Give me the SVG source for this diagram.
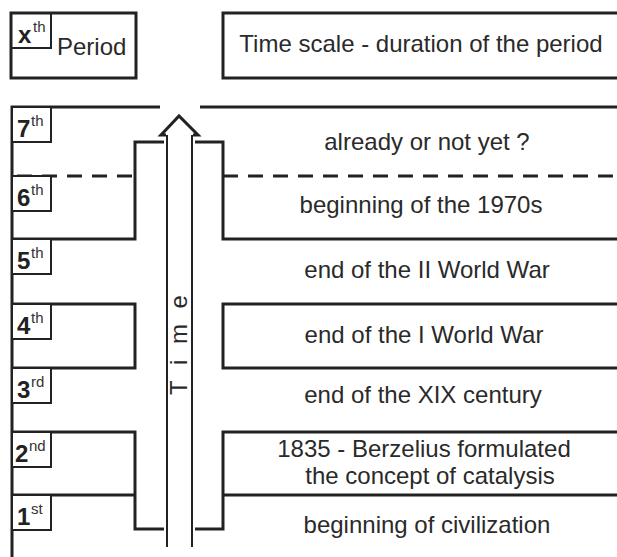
<svg xmlns="http://www.w3.org/2000/svg" width="617" height="557" viewBox="0 0 617 557">
<style>
.ln{fill:none;stroke:#222;stroke-width:3;stroke-linecap:butt}
.thin{fill:none;stroke:#222;stroke-width:2}
.lb{fill:#fff;stroke:#222;stroke-width:2}
.t{font-family:"Liberation Sans",Arial,sans-serif;font-size:24px;fill:#2a2a2a}
.c{text-anchor:middle}
.n{font-family:"Liberation Sans",Arial,sans-serif;font-size:24px;font-weight:bold;fill:#222}
.s{font-family:"Liberation Sans",Arial,sans-serif;font-size:15px;fill:#333}
</style>
<rect width="617" height="557" fill="#fff"/>
<g id="connectors">
<path class="ln" d="M12,557 V107 H160 M200,107 H617"/>
<path class="ln" d="M12,239 H135 V142 H164 M195,142 H223 V239 H617"/>
<path class="ln" d="M17,176 H135 M223,176 H617" stroke-dasharray="15 10"/>
<path class="ln" d="M12,304 H135 V368 H12 M617,304 H223 V368 H617"/>
<path class="ln" d="M12,432 H135 V529 H164 M12,495 H135 M617,432 H223 V529 H195 M223,495 H617"/>
</g>
<g id="time-arrow">
<path class="thin" d="M167,135 V547 M192,135 V547"/>
<path class="ln" d="M166,135 H161 L179,116 L198,135 H193" stroke-linejoin="miter"/>
<text class="t" transform="translate(187,395) rotate(-90)" letter-spacing="4.5">T i m e</text>
</g>
<g id="header-period">
<rect class="ln" x="11" y="13" width="125" height="65"/>
<rect class="thin" x="11" y="13" width="40" height="35"/>
<text class="n" x="18" y="43">x</text>
<text class="s" x="33" y="32">th</text>
<text class="t" x="57" y="55">Period</text>
</g>
<g id="header-scale">
<rect class="ln" x="223" y="13" width="400" height="65"/>
<text class="t c" x="421" y="52">Time scale - duration of the period</text>
</g>
<g id="period-7">
<rect class="lb" x="12" y="107" width="39" height="35"/>
<text class="n" x="17" y="137">7</text><text class="s" x="31" y="126">th</text>
<text class="t c" x="427" y="150">already or not yet ?</text>
</g>
<g id="period-6">
<rect class="lb" x="12" y="176" width="39" height="35"/>
<text class="n" x="17" y="206">6</text><text class="s" x="31" y="195">th</text>
<text class="t c" x="421" y="213">beginning of the 1970s</text>
</g>
<g id="period-5">
<rect class="lb" x="12" y="239" width="39" height="35"/>
<text class="n" x="17" y="269">5</text><text class="s" x="31" y="258">th</text>
<text class="t c" x="427" y="278">end of the II World War</text>
</g>
<g id="period-4">
<rect class="lb" x="12" y="304" width="39" height="35"/>
<text class="n" x="17" y="334">4</text><text class="s" x="31" y="323">th</text>
<text class="t c" x="424" y="343">end of the I World War</text>
</g>
<g id="period-3">
<rect class="lb" x="12" y="368" width="39" height="35"/>
<text class="n" x="17" y="398">3</text><text class="s" x="31" y="387">rd</text>
<text class="t c" x="423" y="403">end of the XIX century</text>
</g>
<g id="period-2">
<rect class="lb" x="12" y="432" width="39" height="35"/>
<text class="n" x="15" y="462">2</text><text class="s" x="29" y="451">nd</text>
<text class="t c" x="424" y="457" font-size="23">1835 - Berzelius formulated</text>
<text class="t c" x="430" y="484" font-size="23">the concept of catalysis</text>
</g>
<g id="period-1">
<rect class="lb" x="12" y="495" width="39" height="35"/>
<text class="n" x="17" y="525">1</text><text class="s" x="31" y="514">st</text>
<text class="t c" x="427" y="533">beginning of civilization</text>
</g>
</svg>
